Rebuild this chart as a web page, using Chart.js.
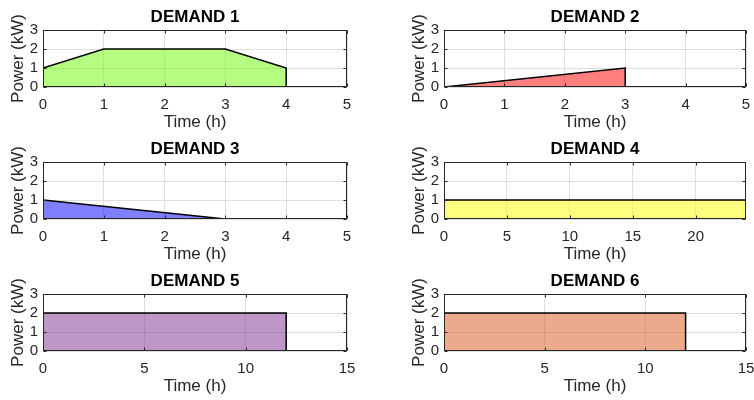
<!DOCTYPE html>
<html>
<head>
<meta charset="utf-8">
<script src="https://cdn.jsdelivr.net/npm/chart.js@4.4.1/dist/chart.umd.min.js"></script>
<style>
  html, body { margin: 0; padding: 0; background: #fff; overflow: hidden; }
  .panel { position: absolute; height: 133px; }
  .left { left: 0; width: 360px; }
  .right { left: 401px; width: 358px; }
</style>
</head>
<body>
<div class="panel left" style="top:0px"><canvas id="d1"></canvas></div>
<div class="panel right" style="top:0px"><canvas id="d2"></canvas></div>
<div class="panel left" style="top:132px"><canvas id="d3"></canvas></div>
<div class="panel right" style="top:132px"><canvas id="d4"></canvas></div>
<div class="panel left" style="top:264px"><canvas id="d5"></canvas></div>
<div class="panel right" style="top:264px"><canvas id="d6"></canvas></div>
<script>
// demand profiles, each one a closed outline (time in h, power in kW)
const titles = ['DEMAND 1', 'DEMAND 2', 'DEMAND 3', 'DEMAND 4', 'DEMAND 5', 'DEMAND 6'];

const demand1Time = [0, 0, 1, 3, 4, 4, 0];
const demand1Power = [0, 1, 2, 2, 1, 0, 0];
const demand2Time = [0, 3, 3, 0];
const demand2Power = [0, 1, 0, 0];
const demand3Time = [0, 0, 3, 0];
const demand3Power = [0, 1, 0, 0];
const demand4Time = [0, 0, 24, 24, 0];
const demand4Power = [0, 1, 1, 0, 0];
const demand5Time = [0, 0, 12, 12, 0];
const demand5Power = [0, 2, 2, 0, 0];
const demand6Time = [0, 0, 12, 12, 0];
const demand6Power = [0, 2, 2, 0, 0];

const timeMax = [5, 5, 5, 24, 15, 15];
const timeStep = [1, 1, 1, 5, 5, 5];
const powerMax = 3;
const powerStep = 1;

const fills = [
  'rgba(105,251,5,0.5)',
  'rgba(255,0,0,0.5)',
  'rgba(0,0,255,0.5)',
  'rgba(255,255,0,0.5)',
  'rgba(126,47,142,0.5)',
  'rgba(217,83,25,0.5)'
];

const times = [demand1Time, demand2Time, demand3Time, demand4Time, demand5Time, demand6Time];
const powers = [demand1Power, demand2Power, demand3Power, demand4Power, demand5Power, demand6Power];

const FONT = "'Liberation Sans', Arial, sans-serif";
const INK = '#262626';

// matlab style box with inward tick marks
const boxPlugin = {
  id: 'matlabBox',
  afterDatasetsDraw(chart) {
    const {ctx, chartArea: a, scales} = chart;
    const L = Math.round(a.left) + 0.5, R = Math.round(a.right) - 0.5;
    const T = Math.round(a.top) + 0.5, B = Math.round(a.bottom) - 0.5;
    ctx.save();
    ctx.strokeStyle = INK;
    ctx.lineWidth = 1;
    ctx.beginPath();
    scales.x.ticks.forEach((t, i) => {
      const px = Math.round(scales.x.getPixelForTick(i)) + 0.5;
      ctx.moveTo(px, B); ctx.lineTo(px, B - 3);
      ctx.moveTo(px, T); ctx.lineTo(px, T + 3);
    });
    scales.y.ticks.forEach((t, i) => {
      const py = Math.round(scales.y.getPixelForTick(i)) + 0.5;
      ctx.moveTo(L, py); ctx.lineTo(L + 3, py);
      ctx.moveTo(R, py); ctx.lineTo(R - 3, py);
    });
    ctx.stroke();
    ctx.strokeRect(L, T, R - L, B - T);
    ctx.restore();
  }
};

function makeChart(i) {
  const pts = times[i].map((t, k) => ({x: t, y: powers[i][k]}));
  const ctx = document.getElementById('d' + (i + 1));
  return new Chart(ctx, {
    type: 'scatter',
    data: {
      datasets: [{
        data: pts,
        showLine: true,
        fill: 'shape',
        backgroundColor: fills[i],
        borderColor: '#000',
        borderWidth: 1.5,
        pointRadius: 0,
        tension: 0
      }]
    },
    options: {
      responsive: true,
      maintainAspectRatio: false,
      animation: false,
      layout: { padding: { left: 0, right: 13, top: 0, bottom: 0 } },
      plugins: {
        legend: { display: false },
        tooltip: { enabled: false },
        title: {
          display: true,
          text: titles[i],
          fullSize: false,
          color: '#000',
          font: { family: FONT, size: 17, weight: 'bold' },
          padding: { top: 7, bottom: 2.6 }
        }
      },
      scales: {
        x: {
          type: 'linear',
          min: 0,
          max: timeMax[i],
          // fixed box size, let edge labels overhang like matlab does
          afterFit: s => { s.height = 46; s.paddingLeft = 0; s.paddingRight = 0; },
          border: { display: false },
          grid: { color: '#dedede', drawTicks: false },
          ticks: {
            stepSize: timeStep[i],
            includeBounds: false,
            autoSkip: false,
            padding: 9,
            color: INK,
            maxRotation: 0,
            font: { family: FONT, size: 15 }
          },
          title: {
            display: true,
            text: 'Time (h)',
            color: INK,
            padding: { top: 0, bottom: 0 },
            font: { family: FONT, size: 17 }
          }
        },
        y: {
          min: 0,
          max: powerMax,
          afterFit: s => { s.width = 43; s.paddingTop = 0; s.paddingBottom = 0; },
          border: { display: false },
          grid: { color: '#dedede', drawTicks: false },
          ticks: {
            stepSize: powerStep,
            autoSkip: false,
            padding: 5,
            color: INK,
            font: { family: FONT, size: 15 }
          },
          title: {
            display: true,
            text: 'Power (kW)',
            color: INK,
            padding: { top: 8, bottom: 0 },
            font: { family: FONT, size: 17 }
          }
        }
      }
    },
    plugins: [boxPlugin]
  });
}

for (let i = 0; i < 6; i++) makeChart(i);
</script>
</body>
</html>
